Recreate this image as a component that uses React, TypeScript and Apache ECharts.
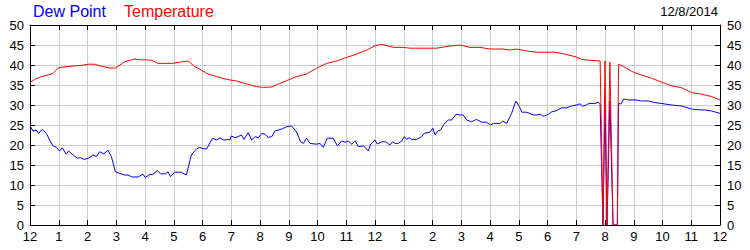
import React, { useEffect, useRef } from "react";
import * as echarts from "echarts";

// [hour since midnight, °F]
const temperature: [number, number][] = [
  [0.0, 35.6], [0.16, 36.4], [0.39, 37.1], [0.63, 37.5], [0.8, 37.9], [0.97, 39.2],
  [1.09, 39.4], [1.44, 39.7], [1.79, 39.9], [2.02, 40.2], [2.25, 40.2], [2.48, 39.7],
  [2.77, 39.25], [2.97, 39.25], [3.29, 40.8], [3.64, 41.5], [3.87, 41.3], [4.22, 41.2],
  [4.45, 40.4], [4.92, 40.4], [5.26, 40.75], [5.5, 41.0], [5.73, 39.6], [5.9, 39.0],
  [6.14, 37.9], [6.49, 37.1], [6.84, 36.4], [7.19, 36.0], [7.54, 35.25], [7.88, 34.6],
  [8.12, 34.4], [8.41, 34.5], [8.64, 35.25], [8.93, 36.1], [9.27, 37.1], [9.62, 37.75],
  [9.97, 39.2], [10.32, 40.4], [10.67, 41.0], [11.01, 41.9], [11.36, 42.7], [11.71, 43.75],
  [12.0, 44.8], [12.23, 45.2], [12.64, 44.4], [12.99, 44.4], [13.22, 44.2], [14.15, 44.2],
  [14.61, 44.75], [14.96, 45.0], [15.3, 44.4], [15.65, 44.4], [16.0, 44.0], [16.46, 44.0],
  [16.69, 43.75], [16.93, 44.0], [17.27, 43.5], [17.62, 43.2], [18.26, 43.2], [18.61, 42.7],
  [18.96, 42.1], [19.19, 41.4], [19.42, 41.2], [19.83, 41.0], [19.93, 0], [20.0, 41.0],
  [20.07, 0], [20.17, 40.7], [20.28, 0], [20.43, 0], [20.47, 40.2], [20.64, 39.6],
  [20.99, 38.2], [21.27, 37.5], [21.62, 36.7], [21.97, 35.7], [22.32, 34.8], [22.67, 34.3],
  [23.01, 33.1], [23.36, 32.7], [23.71, 32.1], [24.0, 31.25],
];

const dewPoint: [number, number][] = [
  [0.02, 24.6], [0.1, 23.5], [0.22, 23.7], [0.3, 22.9], [0.42, 23.9], [0.57, 22.9],
  [0.68, 21.25], [0.8, 19.8], [0.92, 19.4], [1.03, 18.5], [1.12, 19.3], [1.26, 17.7],
  [1.34, 18.5], [1.5, 17.5], [1.65, 16.7], [1.76, 16.8], [1.88, 16.4], [2.04, 16.7],
  [2.19, 17.5], [2.31, 17.1], [2.42, 18.3], [2.57, 17.8], [2.71, 18.7], [2.83, 17.1],
  [2.97, 13.3], [3.12, 12.9], [3.29, 12.5], [3.41, 12.5], [3.55, 12.0], [3.76, 12.0],
  [3.93, 12.7], [4.01, 11.9], [4.13, 12.5], [4.28, 12.7], [4.43, 13.6], [4.54, 12.8],
  [4.71, 12.8], [4.8, 13.3], [4.89, 12.1], [5.03, 13.2], [5.26, 13.2], [5.44, 12.5],
  [5.61, 17.5], [5.79, 19.0], [5.9, 19.4], [6.02, 19.1], [6.14, 19.0], [6.35, 21.7],
  [6.49, 21.25], [6.61, 21.8], [6.72, 21.25], [6.96, 21.4], [7.01, 22.25], [7.13, 21.8],
  [7.36, 22.5], [7.44, 21.4], [7.59, 23.1], [7.71, 21.25], [7.83, 22.1], [7.94, 21.8],
  [8.06, 22.9], [8.17, 22.7], [8.29, 21.9], [8.41, 22.1], [8.52, 23.5], [8.76, 24.0],
  [8.93, 24.6], [9.1, 24.75], [9.27, 23.3], [9.41, 20.8], [9.51, 20.4], [9.62, 21.7],
  [9.74, 20.4], [9.97, 20.2], [10.09, 20.4], [10.2, 19.4], [10.34, 21.7], [10.55, 21.7],
  [10.69, 19.8], [10.84, 21.0], [10.96, 20.7], [11.07, 21.0], [11.19, 20.2], [11.31, 21.0],
  [11.42, 19.6], [11.6, 19.8], [11.68, 19.2], [11.77, 18.5], [11.85, 20.25], [12.0, 21.25],
  [12.08, 20.25], [12.23, 20.8], [12.38, 20.8], [12.52, 20.0], [12.61, 20.8], [12.7, 20.4],
  [12.81, 20.4], [12.93, 21.0], [13.02, 22.1], [13.1, 21.4], [13.19, 21.8], [13.28, 21.4],
  [13.45, 21.4], [13.62, 22.1], [13.71, 22.9], [13.91, 23.2], [14.01, 24.2], [14.09, 22.5],
  [14.18, 23.5], [14.28, 23.75], [14.4, 25.2], [14.55, 26.25], [14.67, 26.25], [14.82, 27.7],
  [14.96, 27.5], [15.07, 27.5], [15.19, 26.25], [15.36, 25.8], [15.53, 26.4], [15.71, 25.7],
  [15.88, 25.7], [16.02, 25.0], [16.12, 25.4], [16.35, 25.4], [16.44, 26.0], [16.58, 25.4],
  [16.75, 27.9], [16.9, 31.0], [17.02, 29.6], [17.11, 28.2], [17.28, 28.2], [17.51, 27.5],
  [17.62, 27.5], [17.74, 27.7], [17.83, 27.25], [17.91, 27.3], [18.03, 27.7], [18.15, 28.3],
  [18.32, 28.6], [18.49, 29.3], [18.67, 29.3], [18.84, 29.75], [19.01, 30.0], [19.13, 30.3],
  [19.22, 29.7], [19.36, 30.0], [19.44, 30.4], [19.65, 30.4], [19.77, 30.7], [19.83, 30.3],
  [19.93, 0], [20.0, 31.0], [20.07, 0], [20.17, 31.0], [20.28, 0], [20.43, 0],
  [20.47, 30.3], [20.56, 30.3], [20.65, 31.5], [20.81, 31.25], [21.04, 31.3], [21.27, 31.0],
  [21.51, 31.0], [21.74, 30.6], [22.09, 30.25], [22.32, 30.0], [22.67, 29.75], [23.01, 29.0],
  [23.25, 28.8], [23.48, 28.75], [23.71, 28.5], [24.0, 27.9],
];

const hourLabels: string[] = [
  "12", "1", "2", "3", "4", "5", "6", "7", "8", "9", "10", "11",
  "12", "1", "2", "3", "4", "5", "6", "7", "8", "9", "10", "11", "12",
];

const seriesNames = ["Dew Point", "Temperature"];
const seriesColors = ["#0000ff", "#ff0000"];
const dateLabel = "12/8/2014";

const FONT = '"Liberation Sans", Arial, sans-serif';

export default function App() {
  const ref = useRef<HTMLDivElement>(null);

  useEffect(() => {
    if (!ref.current) return;
    const chart = echarts.init(ref.current, undefined, { renderer: "svg" });

    const axisLine = { show: true, onZero: false, lineStyle: { color: "#000", width: 1 } };
    const axisTick = { show: true, inside: true, length: 5, lineStyle: { color: "#000", width: 1 } };
    const label = { color: "#000", fontSize: 13, fontFamily: FONT };
    const split = { show: true, lineStyle: { color: "#cccccc", width: 1 } };

    chart.setOption({
      animation: false,
      grid: { left: 30, right: 30, top: 25, bottom: 25, containLabel: false },
      xAxis: [
        {
          type: "value", min: 0, max: 24, interval: 1, position: "bottom",
          axisLine, axisTick,
          axisLabel: { ...label, margin: 5, formatter: (v: number) => hourLabels[Math.round(v)] ?? "" },
          splitLine: split,
        },
        {
          type: "value", min: 0, max: 24, interval: 1, position: "top",
          axisLine, axisTick, axisLabel: { show: false }, splitLine: { show: false },
        },
      ],
      yAxis: [
        {
          type: "value", min: 0, max: 50, interval: 5, position: "left",
          axisLine, axisTick, axisLabel: { ...label, margin: 6 }, splitLine: split,
        },
        {
          type: "value", min: 0, max: 50, interval: 5, position: "right",
          axisLine, axisTick, axisLabel: { ...label, margin: 7 }, splitLine: { show: false },
        },
      ],
      series: [
        {
          name: seriesNames[0], type: "line", data: dewPoint, showSymbol: false,
          lineStyle: { color: seriesColors[0], width: 1 }, itemStyle: { color: seriesColors[0] },
          xAxisIndex: 0, yAxisIndex: 0,
        },
        {
          name: seriesNames[1], type: "line", data: temperature, showSymbol: false,
          lineStyle: { color: seriesColors[1], width: 1 }, itemStyle: { color: seriesColors[1] },
          xAxisIndex: 0, yAxisIndex: 0,
        },
      ],
      graphic: [
        {
          type: "text", left: 33, top: 3,
          style: { text: seriesNames[0], fill: seriesColors[0], font: `16px ${FONT}` },
        },
        {
          type: "text", left: 124, top: 3,
          style: { text: seriesNames[1], fill: seriesColors[1], font: `16px ${FONT}` },
        },
        {
          type: "text", right: 32, top: 5,
          style: { text: dateLabel, fill: "#000", font: `13px ${FONT}` },
        },
      ],
    });

    return () => chart.dispose();
  }, []);

  return (
    <div
      ref={ref}
      style={{ position: "fixed", left: 0, top: 0, width: 750, height: 250, background: "#fff" }}
    />
  );
}
